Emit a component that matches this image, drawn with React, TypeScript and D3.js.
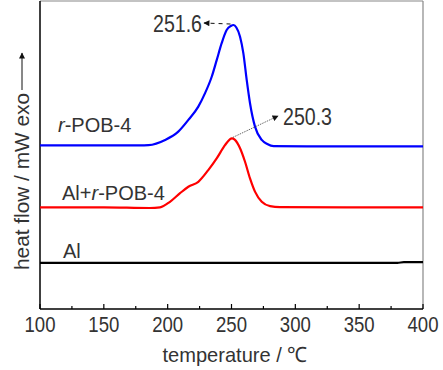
import React, { useEffect, useRef } from 'react';
import * as d3 from 'd3';

// DSC curves (temperature in °C, heat flow in arbitrary mW offset units)
const blueTemps = [100, 150, 178, 185, 198, 208.3, 216.2, 224, 229.2, 234.5, 238.4, 242.3, 246.2, 249.5, 251.6, 253.8, 256.7, 259.3, 261.9, 264.5, 268.4, 273.7, 278, 283, 320, 400];
const blueValues = [5.31, 5.31, 5.31, 5.32, 5.49, 5.76, 6.14, 6.57, 7.0, 7.54, 8.08, 8.63, 9.06, 9.19, 9.22, 9.14, 8.84, 8.3, 7.44, 6.68, 5.92, 5.49, 5.36, 5.29, 5.28, 5.28];

const redTemps = [100, 150, 186, 194, 201.8, 209.7, 216.2, 224, 231.8, 238.4, 244.9, 248.5, 250.3, 252.5, 256.7, 260.6, 264.5, 268.4, 273.7, 280.2, 288, 340, 400];
const redValues = [3.3, 3.3, 3.28, 3.3, 3.48, 3.76, 3.97, 4.13, 4.51, 4.89, 5.32, 5.5, 5.54, 5.5, 5.22, 4.78, 4.24, 3.81, 3.48, 3.34, 3.31, 3.3, 3.3];

const blackTemps = [100, 200, 300, 380, 385, 400];
const blackValues = [1.5, 1.5, 1.5, 1.5, 1.52, 1.52];

const xTicks = [100, 150, 200, 250, 300, 350, 400];
const xMinorTicks = [125, 175, 225, 275, 325, 375];

const bluePeak = 251.6;
const redPeak = 250.3;

const FONT = '"Liberation Sans", Arial, sans-serif';
const TEXT = '#333';

const App: React.FC = () => {
  const ref = useRef<SVGSVGElement>(null);

  useEffect(() => {
    if (!ref.current) return;
    const svg = d3.select(ref.current);
    svg.selectAll('*').remove();

    const left = 40, right = 423, top = 1, bottom = 309;
    const x = d3.scaleLinear().domain([100, 400]).range([left, right]);
    const y = d3.scaleLinear().domain([0, 10]).range([bottom, top]);

    const defs = svg.append('defs');
    defs.append('marker')
      .attr('id', 'arr')
      .attr('viewBox', '0 0 10 10')
      .attr('refX', 9).attr('refY', 5)
      .attr('markerWidth', 7).attr('markerHeight', 6)
      .attr('markerUnits', 'userSpaceOnUse')
      .attr('orient', 'auto')
      .append('path').attr('d', 'M0,0L10,5L0,10z').attr('fill', '#111');

    // frame
    svg.append('line').attr('x1', left).attr('x2', right).attr('y1', top).attr('y2', top)
      .attr('stroke', '#888').attr('stroke-width', 1.2);
    svg.append('line').attr('x1', right).attr('x2', right).attr('y1', top).attr('y2', bottom)
      .attr('stroke', '#888').attr('stroke-width', 1.2);
    svg.append('line').attr('x1', left).attr('x2', left).attr('y1', top).attr('y2', bottom)
      .attr('stroke', '#000').attr('stroke-width', 1.5);
    svg.append('line').attr('x1', left).attr('x2', right).attr('y1', bottom).attr('y2', bottom)
      .attr('stroke', '#000').attr('stroke-width', 1.5);

    // ticks (inward)
    xTicks.forEach(t => {
      svg.append('line').attr('x1', x(t)).attr('x2', x(t)).attr('y1', bottom).attr('y2', bottom - 5)
        .attr('stroke', '#000').attr('stroke-width', 1.2);
      svg.append('text').attr('x', x(t)).attr('y', bottom + 23)
        .attr('text-anchor', 'middle').attr('font-family', FONT).attr('font-size', 22)
        .attr('fill', TEXT).attr('textLength', 31).attr('lengthAdjust', 'spacingAndGlyphs')
        .text(t);
    });
    xMinorTicks.forEach(t => {
      svg.append('line').attr('x1', x(t)).attr('x2', x(t)).attr('y1', bottom).attr('y2', bottom - 3)
        .attr('stroke', '#000').attr('stroke-width', 1.2);
    });

    // axis titles
    svg.append('text').attr('x', 235).attr('y', 362).attr('text-anchor', 'middle')
      .attr('font-family', FONT).attr('font-size', 21).attr('fill', TEXT)
      .attr('textLength', 145).attr('lengthAdjust', 'spacingAndGlyphs')
      .text('temperature / ℃');

    svg.append('text').attr('transform', 'translate(29,270) rotate(-90)')
      .attr('font-family', FONT).attr('font-size', 21).attr('fill', TEXT)
      .attr('textLength', 177).attr('lengthAdjust', 'spacingAndGlyphs')
      .text('heat flow / mW  exo');
    svg.append('line').attr('x1', 22).attr('x2', 22).attr('y1', 90).attr('y2', 53)
      .attr('stroke', '#111').attr('stroke-width', 1).attr('marker-end', 'url(#arr)');

    // curves
    const line = d3.line<[number, number]>()
      .x(d => x(d[0])).y(d => y(d[1]))
      .curve(d3.curveMonotoneX);

    const series = [
      { t: blackTemps, v: blackValues, c: '#000000' },
      { t: redTemps, v: redValues, c: '#ff0000' },
      { t: blueTemps, v: blueValues, c: '#0000ff' },
    ];
    series.forEach(s => {
      svg.append('path')
        .datum(s.t.map((t, i) => [t, s.v[i]] as [number, number]))
        .attr('d', line)
        .attr('fill', 'none').attr('stroke', s.c).attr('stroke-width', 2.2);
    });

    // labels
    const lab = (xx: number, yy: number, parts: Array<[string, boolean]>) => {
      const t = svg.append('text').attr('x', xx).attr('y', yy)
        .attr('font-family', FONT).attr('font-size', 20).attr('fill', TEXT);
      parts.forEach(([s, it]) => t.append('tspan').attr('font-style', it ? 'italic' : 'normal').text(s));
    };
    lab(58, 132, [['r', true], ['-POB-4', false]]);
    lab(62, 200, [['Al+', false], ['r', true], ['-POB-4', false]]);
    lab(63, 258, [['Al', false]]);

    // peak annotations
    const bpY = y(blueValues[blueTemps.indexOf(bluePeak)]);
    svg.append('line').attr('x1', x(bluePeak) - 3).attr('y1', bpY - 1).attr('x2', 204).attr('y2', 23)
      .attr('stroke', '#111').attr('stroke-width', 1).attr('stroke-dasharray', '4,4')
      .attr('marker-end', 'url(#arr)');
    svg.append('text').attr('x', 153).attr('y', 32).attr('font-family', FONT).attr('font-size', 23)
      .attr('fill', TEXT).attr('textLength', 49).attr('lengthAdjust', 'spacingAndGlyphs')
      .text(bluePeak.toFixed(1));

    const rpY = y(redValues[redTemps.indexOf(redPeak)]);
    svg.append('line').attr('x1', x(redPeak) + 1).attr('y1', rpY - 1).attr('x2', 278).attr('y2', 116)
      .attr('stroke', '#444').attr('stroke-width', 0.8).attr('stroke-dasharray', '1.5,1')
      .attr('marker-end', 'url(#arr)');
    svg.append('text').attr('x', 283).attr('y', 125).attr('font-family', FONT).attr('font-size', 23)
      .attr('fill', TEXT).attr('textLength', 49).attr('lengthAdjust', 'spacingAndGlyphs')
      .text(redPeak.toFixed(1));
  }, []);

  return (
    <svg ref={ref} width={443} height={370}
      style={{ position: 'absolute', left: 0, top: 0, background: '#fff' }} />
  );
};

export default App;
